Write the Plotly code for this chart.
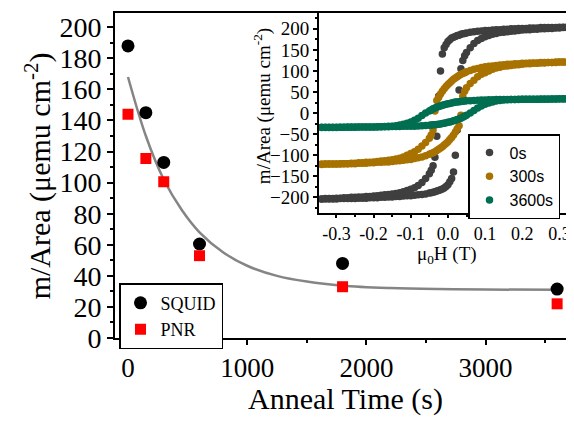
import plotly.graph_objects as go

# ---------------- main panel data ----------------
anneal_t = [0, 150, 300, 600, 1800, 3600]
squid_m = [188, 145, 113, 60.5, 48, 31.5]
pnr_m = [144, 115.5, 100.5, 53, 33, 22]

fit_t = [0, 150, 300, 450, 600, 800, 1000, 1250, 1500, 1800, 2200, 2600, 3000, 3600]
fit_m = [168, 130, 102, 82.5, 68, 55, 46.5, 40, 36.3, 33.7, 32.2, 31.5, 31.2, 31]

main_xticks = [0, 1000, 2000, 3000]
main_yticks = [0, 20, 40, 60, 80, 100, 120, 140, 160, 180, 200]

# ---------------- inset data (ascending branch, field in T) ----------------
field_up = [-0.34, -0.33, -0.32, -0.31, -0.30, -0.29, -0.28, -0.27, -0.26, -0.25,
            -0.24, -0.23, -0.22, -0.21, -0.20, -0.19, -0.18, -0.17, -0.16, -0.15,
            -0.14, -0.13, -0.12, -0.11, -0.10, -0.09, -0.08, -0.07, -0.06,
            -0.05, -0.045, -0.04, -0.035, -0.03, -0.025, -0.02, -0.015, -0.01, -0.005,
            0.0, 0.005, 0.01, 0.015, 0.02, 0.025, 0.03, 0.035, 0.04, 0.045, 0.05,
            0.06, 0.07, 0.08, 0.09, 0.10, 0.11, 0.12, 0.13, 0.14, 0.15,
            0.16, 0.17, 0.18, 0.19, 0.20, 0.21, 0.22, 0.23, 0.24, 0.25,
            0.26, 0.27, 0.28, 0.29, 0.30, 0.31, 0.32, 0.33, 0.34]

m_up_0s = [-204, -204, -204, -204, -204, -203, -203, -203, -203, -203,
           -202, -202, -202, -201, -201, -201, -200, -200, -199, -199,
           -198, -198, -197, -196, -196, -195, -194, -193, -192,
           -190, -189, -188, -187, -185, -184, -182, -180, -178, -174,
           -170, -163, -155, -140, -100, -40, 55, 105, 125, 136, 144,
           155, 165, 172, 177, 181, 184, 187, 189, 191, 192,
           193, 194, 195, 196, 197, 198, 198, 199, 199, 200,
           200, 201, 201, 202, 202, 203, 203, 203, 204]

m_up_300s = [-121, -121, -121, -121, -121, -121, -120, -120, -120, -120,
             -119, -119, -119, -118, -118, -117, -117, -116, -116, -115,
             -114, -113, -112, -111, -110, -108, -106, -104, -101,
             -98, -96, -94, -92, -89, -86, -83, -80, -76, -72,
             -68, -63, -58, -52, -45, -37, -30, -5, 40, 52, 60,
             70, 78, 86, 92, 96, 100, 104, 107, 109, 111,
             112, 113, 114, 115, 116, 117, 117, 118, 118, 119,
             119, 120, 120, 120, 121, 121, 121, 121, 122]

m_up_3600s = [-33.5, -33.5, -33.5, -33.5, -33.5, -33.5, -33.5, -33, -33, -33,
              -33, -33, -33, -33, -33, -33, -32.5, -32.5, -32.5, -32,
              -32, -32, -31.5, -31.5, -31, -31, -30.5, -30, -29.5,
              -29, -28.5, -28, -27.5, -27, -26.5, -26, -25, -24, -23,
              -22, -21, -20, -18.5, -17, -15.5, -14, -12, -10, -7.5, -5,
              0, 6, 12, 17, 21, 24, 26.5, 28.5, 30, 31,
              31.5, 32, 32.5, 32.5, 33, 33, 33, 33, 33, 33.5,
              33.5, 33.5, 33.5, 33.5, 34, 34, 34, 34, 34]

loop_names = ["0s", "300s", "3600s"]
loop_colors = ["#3f3f3f", "#a87200", "#006e50"]
loop_data = [m_up_0s, m_up_300s, m_up_3600s]

inset_xticks = [-0.3, -0.2, -0.1, 0.0, 0.1, 0.2, 0.3]
inset_xlabels = ["-0.3", "-0.2", "-0.1", "0.0", "0.1", "0.2", "0.3"]
inset_yticks = [-200, -150, -100, -50, 0, 50, 100, 150, 200]

# ---------------- figure ----------------
W, H = 574, 422
SERIF = "Liberation Serif"
SANS = "Liberation Sans"

def px_x(p):
    return p / W

def px_y(p):
    return (H - p) / H

fig = go.Figure()

fig.add_trace(go.Scatter(x=fit_t, y=fit_m, mode="lines", line=dict(color="#858585", width=2.5, shape="spline"),
                         showlegend=False, xaxis="x", yaxis="y", hoverinfo="skip"))
fig.add_trace(go.Scatter(x=anneal_t, y=squid_m, mode="markers", name="SQUID",
                         marker=dict(symbol="circle", size=13, color="black"), xaxis="x", yaxis="y", legend="legend"))
fig.add_trace(go.Scatter(x=anneal_t, y=pnr_m, mode="markers", name="PNR",
                         marker=dict(symbol="square", size=11, color="#ff0000"), xaxis="x", yaxis="y", legend="legend"))

for name, color, m_up in zip(loop_names, loop_colors, loop_data):
    h_down = [-h for h in reversed(field_up)]
    m_down = [-m for m in reversed(m_up)]
    fig.add_trace(go.Scatter(x=field_up + h_down, y=m_up + m_down, mode="markers", name=name,
                             marker=dict(size=7.5, color=color, line=dict(width=0)),
                             xaxis="x2", yaxis="y2", legend="legend2", cliponaxis=True))

main_dom_x = [px_x(107), px_x(567)]
main_dom_y = [px_y(343), px_y(5)]
ins_dom_x = [px_x(311), px_x(567)]
ins_dom_y = [px_y(213), px_y(5)]

axis_common = dict(showline=True, linecolor="black", linewidth=2, mirror=True, showgrid=False, zeroline=False,
                   ticks="outside", tickcolor="black", tickwidth=2)

fig.update_layout(
    width=W, height=H, margin=dict(l=0, r=0, t=0, b=0),
    paper_bgcolor="white", plot_bgcolor="white",
    font=dict(family=SERIF, size=28, color="black"),
    xaxis=dict(domain=main_dom_x, anchor="y", range=[-109, 3750], tickvals=main_xticks,
               ticklen=5, tickfont=dict(family=SERIF, size=27, color="black"),
               minor=dict(ticks="outside", ticklen=3, dtick=500, tick0=0, tickcolor="black", tickwidth=2),
               **axis_common),
    yaxis=dict(domain=main_dom_y, anchor="x", range=[0, 209.3], tickvals=main_yticks,
               ticklen=6, tickfont=dict(family=SERIF, size=28, color="black"),
               minor=dict(ticks="outside", ticklen=3, dtick=10, tick0=0, tickcolor="black", tickwidth=2),
               **axis_common),
    xaxis2=dict(domain=ins_dom_x, anchor="y2", range=[-0.347, 0.342], tickvals=inset_xticks, ticktext=inset_xlabels,
                ticklen=3, tickfont=dict(family=SERIF, size=18, color="black"),
                minor=dict(ticks="outside", ticklen=2, dtick=0.05, tick0=0, tickcolor="black", tickwidth=1.5),
                **{**axis_common, "linewidth": 2, "tickwidth": 1.5}),
    yaxis2=dict(domain=ins_dom_y, anchor="x2", range=[-237, 238], tickvals=inset_yticks,
                ticklen=4, tickfont=dict(family=SERIF, size=19, color="black"),
                minor=dict(ticks="outside", ticklen=2, dtick=25, tick0=0, tickcolor="black", tickwidth=1.5),
                **{**axis_common, "linewidth": 2, "tickwidth": 1.5}),
    legend=dict(x=px_x(111), y=px_y(286), xanchor="left", yanchor="top",
                bgcolor="white", bordercolor="black", borderwidth=1.5,
                font=dict(family=SERIF, size=18, color="black"), itemwidth=30, tracegroupgap=0),
    legend2=dict(x=px_x(460), y=px_y(131), xanchor="left", yanchor="top",
                 bgcolor="white", bordercolor="black", borderwidth=1.5,
                 font=dict(family=SANS, size=16, color="black"), itemwidth=30, tracegroupgap=0),
    showlegend=True,
)

fig.add_annotation(text="Anneal Time (s)", xref="paper", yref="paper", x=px_x(337), y=px_y(406),
                   xanchor="center", yanchor="middle", showarrow=False,
                   font=dict(family=SERIF, size=30, color="black"))
fig.add_annotation(text="m/Area (μemu cm<sup>-2</sup>)", xref="paper", yref="paper", x=px_x(30), y=px_y(175),
                   xanchor="center", yanchor="middle", showarrow=False, textangle=-90,
                   font=dict(family=SERIF, size=30, color="black"))
fig.add_annotation(text="μ<sub>0</sub>H (T)", xref="paper", yref="paper", x=px_x(439), y=px_y(257),
                   xanchor="center", yanchor="middle", showarrow=False,
                   font=dict(family=SERIF, size=19, color="black"))
fig.add_annotation(text="m/Area (μemu cm<sup>-2</sup>)", xref="paper", yref="paper", x=px_x(254), y=px_y(102),
                   xanchor="center", yanchor="middle", showarrow=False, textangle=-90,
                   font=dict(family=SERIF, size=19, color="black"))

fig.write_html("out.html")
